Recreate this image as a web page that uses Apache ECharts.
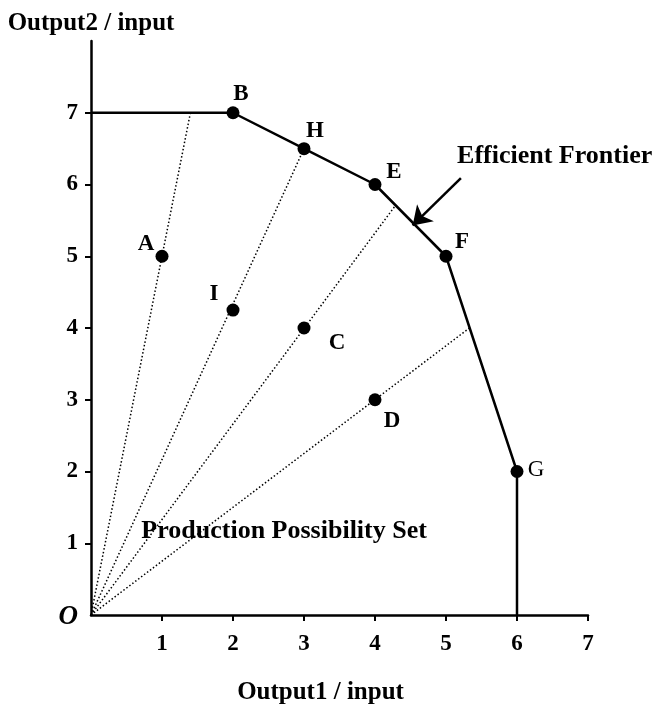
<!DOCTYPE html>
<html lang="en">
<head>
    <meta charset="UTF-8">
    <title>Efficient Frontier</title>
    <script src="https://cdn.jsdelivr.net/npm/echarts@6/dist/echarts.min.js"></script>
    <style>
        html, body { margin: 0; padding: 0; background: #fff; }
        #container { width: 659px; height: 712px; }
    </style>
</head>
<body>
    <div id="container"></div>
    <script>
        // 数据
        var unitNames = ['A', 'B', 'H', 'E', 'F', 'G', 'I', 'C', 'D'];
        var unitX = [1, 2, 3, 4, 5, 6, 2, 3, 4];
        var unitY = [5, 7, 6.5, 6, 5, 2, 4.25, 4, 3];

        // 前沿折线
        var frontierX = [0, 2, 3, 4, 5, 6, 6];
        var frontierY = [7, 7, 6.5, 6, 5, 2, 0];

        // 从原点出发的射线终点
        var rayEndX = [1.4, 3, 4.29, 5.33];
        var rayEndY = [7, 6.5, 5.71, 4];

        // 箭头 (起点, 终点)
        var arrowFrom = [5.21, 6.09];
        var arrowTo = [4.53, 5.43];

        // 文字注释
        var noteTexts = ['Efficient Frontier', 'Production Possibility Set'];
        var noteX = [6.53, 2.72];
        var noteY = [6.40, 1.16];

        var tickValues = [0, 1, 2, 3, 4, 5, 6, 7];

        var serif = 'Liberation Serif';

        // 点标签的位置偏移
        var labelOffset = {
            A: [-16, -12], B: [8, -19], H: [11, -18], E: [19, -12], F: [16, -14],
            G: [19, -2], I: [-19, -16], C: [33, 15], D: [17, 21]
        };

        var pointData = unitNames.map(function (n, i) {
            return {
                value: [unitX[i], unitY[i]],
                name: n,
                label: {
                    offset: labelOffset[n],
                    fontWeight: n == 'G' ? 'normal' : 'bold'
                }
            };
        });

        var frontierData = frontierX.map(function (x, i) { return [x, frontierY[i]]; });

        var raySeries = rayEndX.map(function (x, i) {
            return {
                type: 'line',
                data: [[0, 0], [x, rayEndY[i]]],
                symbol: 'none',
                silent: true,
                lineStyle: { color: '#000', width: 1.5, type: [1.5, 2.2] },
                z: 1
            };
        });

        var noteData = noteTexts.map(function (t, i) {
            return { value: [noteX[i], noteY[i]], name: t };
        });

        var myChart = echarts.init(document.getElementById('container'));
        myChart.setOption({
            backgroundColor: '#fff',
            animation: false,
            grid: { left: 91, right: 71, top: 41, bottom: 97 },
            xAxis: {
                type: 'value',
                min: 0, max: 7, interval: 1,
                name: 'Output1 / input',
                nameLocation: 'middle',
                nameGap: 65,
                nameMoveOverlap: false,
                nameTextStyle: { fontFamily: serif, fontWeight: 'bold', fontSize: 25, color: '#000', padding: [0, 38, 0, 0] },
                axisLine: { show: true, onZero: false, lineStyle: { color: '#000', width: 2.5 } },
                axisTick: { show: true, length: 6, lineStyle: { color: '#000', width: 2 }, customValues: [1, 2, 3, 4, 5, 6, 7] },
                axisLabel: {
                    margin: 18, fontFamily: serif, fontWeight: 'bold', fontSize: 23, color: '#000',
                    customValues: [1, 2, 3, 4, 5, 6, 7]
                },
                splitLine: { show: false }
            },
            yAxis: {
                type: 'value',
                min: 0, max: 8, interval: 1,
                name: 'Output2 / input',
                nameLocation: 'end',
                nameGap: 5,
                nameTextStyle: { fontFamily: serif, fontWeight: 'bold', fontSize: 25, color: '#000', align: 'center' },
                axisLine: { show: true, onZero: false, lineStyle: { color: '#000', width: 2.5 } },
                axisTick: { show: true, length: 6, lineStyle: { color: '#000', width: 2 }, customValues: [1, 2, 3, 4, 5, 6, 7] },
                axisLabel: {
                    margin: 13, fontFamily: serif, fontWeight: 'bold', fontSize: 23, color: '#000',
                    customValues: tickValues,
                    formatter: function (v) { return v == 0 ? '{o|O}' : String(v); },
                    rich: { o: { fontFamily: serif, fontStyle: 'italic', fontSize: 27, color: '#000', padding: [4, 0, 0, 0] } }
                },
                splitLine: { show: false }
            },
            series: raySeries.concat([
                {
                    type: 'line',
                    data: frontierData,
                    symbol: 'none',
                    silent: true,
                    lineStyle: { color: '#000', width: 2.5 },
                    z: 2
                },
                {
                    type: 'scatter',
                    data: pointData,
                    symbol: 'circle',
                    symbolSize: 13,
                    itemStyle: { color: '#000', opacity: 1 },
                    label: {
                        show: true,
                        position: 'inside',
                        formatter: '{b}',
                        fontFamily: serif,
                        fontSize: 23,
                        color: '#000'
                    },
                    z: 3
                },
                {
                    type: 'lines',
                    coordinateSystem: 'cartesian2d',
                    data: [{ coords: [arrowFrom, arrowTo] }],
                    symbol: ['none', 'arrow'],
                    symbolSize: [12, 18],
                    lineStyle: { color: '#000', width: 2.5, opacity: 1, curveness: 0 },
                    z: 4
                },
                {
                    type: 'scatter',
                    data: noteData,
                    symbolSize: 0,
                    silent: true,
                    itemStyle: { opacity: 1 },
                    label: {
                        show: true,
                        position: 'inside',
                        formatter: '{b}',
                        fontFamily: serif,
                        fontWeight: 'bold',
                        fontSize: 26,
                        color: '#000'
                    },
                    z: 5
                }
            ])
        });
    </script>
</body>
</html>
